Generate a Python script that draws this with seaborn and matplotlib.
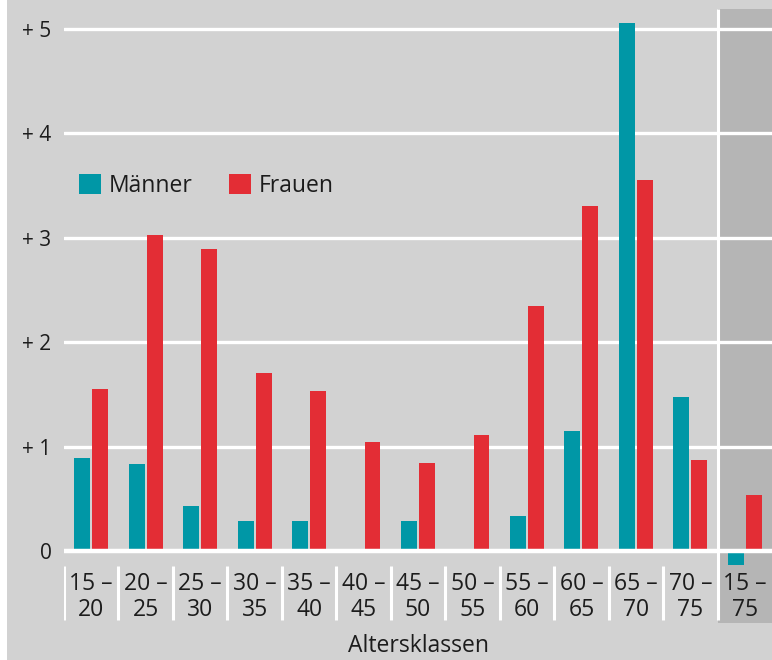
import pandas as pd
import matplotlib
matplotlib.use("Agg")
import matplotlib.pyplot as plt
from matplotlib.patches import Rectangle
import seaborn as sns

# data
groups = ["15-20", "20-25", "25-30", "30-35", "35-40", "40-45", "45-50",
          "50-55", "55-60", "60-65", "65-70", "70-75", "15-75"]
tick_labels = ["15 –\n20", "20 –\n25", "25 –\n30", "30 –\n35", "35 –\n40",
               "40 –\n45", "45 –\n50", "50 –\n55", "55 –\n60", "60 –\n65",
               "65 –\n70", "70 –\n75", "15 –\n75"]
maenner = [0.89, 0.83, 0.43, 0.29, 0.29, 0.02, 0.29, 0.0, 0.33, 1.15, 5.06, 1.47, -0.13]
frauen = [1.55, 3.03, 2.89, 1.70, 1.53, 1.04, 0.84, 1.11, 2.35, 3.30, 3.55, 0.87, 0.54]
y_ticks = [0, 1, 2, 3, 4, 5]
y_labels = ["0", "+ 1", "+ 2", "+ 3", "+ 4", "+ 5"]

bg = "#d2d2d2"
band = "#b5b5b5"
teal = "#0097a6"
red = "#e32d35"
txt = "#1c1c1c"

df = pd.DataFrame({
    "gruppe": groups * 2,
    "wert": maenner + frauen,
    "geschlecht": ["Männer"] * len(groups) + ["Frauen"] * len(groups),
})

sns.set_theme(style="white")
plt.rcParams["font.family"] = ["Open Sans", "DejaVu Sans"]

fig = plt.figure(figsize=(7.72, 6.6), dpi=100, facecolor=bg)
ax = fig.add_axes([64 / 772, 37 / 660, 708 / 772, 614 / 660])
ax.set_facecolor(bg)

sns.barplot(data=df, x="gruppe", y="wert", hue="geschlecht", order=groups,
            palette=[teal, red], width=0.66, gap=0.12, linewidth=0,
            saturation=1, ax=ax)

ax.set_xlim(-0.5, len(groups) - 0.5)
ax.set_ylim(-0.69, 5.19)

# darker band for the total column
ax.axvspan(len(groups) - 1.5, len(groups) - 0.5, color=band, zorder=0.1, lw=0)

# gridlines
for t in y_ticks[1:]:
    ax.axhline(t, color="white", lw=2.4, zorder=0.5)
ax.axhline(0, color="white", lw=3.2, zorder=3)
ax.vlines(len(groups) - 1.5, -0.66, 5.19, color="white", lw=2.2, zorder=0.6)

# separators under the axis
ax.vlines([i - 0.5 for i in range(len(groups) - 1)], -0.66, -0.145,
          color="white", lw=2.2, zorder=0.6)

for s in ax.spines.values():
    s.set_visible(False)

ax.set_yticks(y_ticks)
ax.set_yticklabels(y_labels, fontsize=15, color=txt)
ax.tick_params(axis="y", length=0, pad=9)
ax.set_xticks([])
ax.set_xlabel("")
ax.set_ylabel("")

for i, lab in enumerate(tick_labels):
    ax.text(i, -0.44, lab, ha="center", va="center", multialignment="center",
            fontsize=16.5, color=txt, linespacing=1.15)

fig.text(418 / 772, 1 - 646 / 660, "Altersklassen", ha="center", va="center",
         fontsize=16.5, color=txt)

handles, labels = ax.get_legend_handles_labels()
ax.legend(handles, labels, ncol=2, frameon=False, loc="center left",
          bbox_to_anchor=(15 / 708, (623 - 186) / 614), borderaxespad=0,
          borderpad=0, handlelength=0.95, handleheight=0.95,
          handletextpad=0.35, columnspacing=1.6,
          prop={"size": 16.5}, labelcolor=txt)

fig.add_artist(Rectangle((0, 0), 7 / 772, 1, transform=fig.transFigure,
                         color="white", lw=0))

fig.savefig("out.png", dpi=100, facecolor=bg)
